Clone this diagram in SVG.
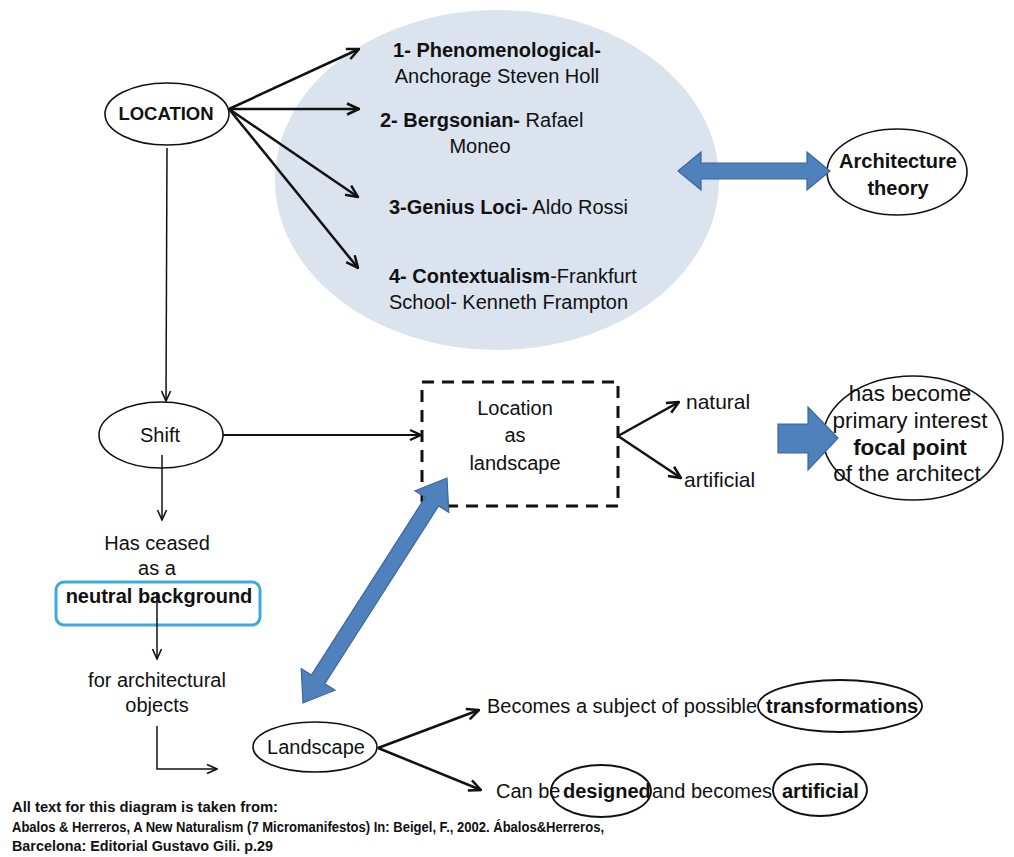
<svg xmlns="http://www.w3.org/2000/svg" width="1014" height="857" viewBox="0 0 1014 857">
  <style>
    text { font-family: "Liberation Sans", Arial, sans-serif; fill: #111; }
    .t { font-size: 20px; }
    .b { font-weight: bold; }
    .big { font-size: 22.5px; }
    .foot { font-size: 14.5px; font-weight: bold; }
    .node { fill: #fff; stroke: #111; stroke-width: 1.6; }
    .ring { fill: none; stroke: #111; stroke-width: 1.8; }
    .thick { fill: none; stroke: #111; stroke-width: 2.5; marker-end: url(#ah); }
    .thin { fill: none; stroke: #111; stroke-width: 1.5; marker-end: url(#ahs); }
    .mid { fill: none; stroke: #111; stroke-width: 2.2; marker-end: url(#ahm); }
    .blue { fill: #4f81bd; stroke: #3b679c; stroke-width: 1.2; }
  </style>
  <defs>
    <marker id="ah" viewBox="0 0 14 14" refX="13" refY="7" markerWidth="14" markerHeight="14" orient="auto" markerUnits="userSpaceOnUse">
      <path d="M1,1.5 L13,7 L1,12.5" fill="none" stroke="#111" stroke-width="2.5"/>
    </marker>
    <marker id="ahm" viewBox="0 0 13 13" refX="12" refY="6.5" markerWidth="13" markerHeight="13" orient="auto" markerUnits="userSpaceOnUse">
      <path d="M1,1.5 L12,6.5 L1,11.5" fill="none" stroke="#111" stroke-width="2.2"/>
    </marker>
    <marker id="ahs" viewBox="0 0 12 12" refX="11" refY="6" markerWidth="12" markerHeight="12" orient="auto" markerUnits="userSpaceOnUse">
      <path d="M1,1.5 L11,6 L1,10.5" fill="none" stroke="#111" stroke-width="1.6"/>
    </marker>
  </defs>

  <rect width="1014" height="857" fill="#fff"/>

  <!-- theories bubble -->
  <g id="theories">
    <ellipse cx="497" cy="180" rx="222" ry="170" fill="#dbe3ef"/>
    <text class="t b" x="497" y="57" text-anchor="middle">1- Phenomenological-</text>
    <text class="t" x="497" y="83" text-anchor="middle">Anchorage Steven Holl</text>
    <text class="t" x="380" y="127"><tspan class="b">2- Bergsonian-</tspan> Rafael</text>
    <text class="t" x="480" y="153" text-anchor="middle">Moneo</text>
    <text class="t" x="389" y="214"><tspan class="b">3-Genius Loci-</tspan> Aldo Rossi</text>
    <text class="t" x="389" y="283"><tspan class="b">4- Contextualism</tspan>-Frankfurt</text>
    <text class="t" x="389" y="309">School- Kenneth Frampton</text>
  </g>

  <g id="location">
    <ellipse class="node" cx="167" cy="114" rx="62" ry="31"/>
    <text class="b" x="166" y="120" text-anchor="middle" font-size="18.5">LOCATION</text>
  </g>

  <g id="architecture-theory">
    <ellipse class="node" cx="897" cy="172" rx="70" ry="43"/>
    <text class="t b" x="898" y="168" text-anchor="middle" font-size="19.5">Architecture</text>
    <text class="t b" x="898" y="195" text-anchor="middle" font-size="19.5">theory</text>
  </g>

  <g id="shift">
    <ellipse class="node" cx="161" cy="435" rx="62" ry="33"/>
    <text class="t" x="160" y="442" text-anchor="middle">Shift</text>
  </g>

  <g id="location-as-landscape">
    <rect x="422" y="382" width="196" height="124" fill="none" stroke="#111" stroke-width="3" stroke-dasharray="12 8"/>
    <text class="t" x="515" y="415" text-anchor="middle">Location</text>
    <text class="t" x="515" y="442" text-anchor="middle">as</text>
    <text class="t" x="515" y="470" text-anchor="middle">landscape</text>
  </g>

  <g id="natural"><text x="686" y="409" font-size="21">natural</text></g>
  <g id="artificial"><text x="684" y="487" font-size="21">artificial</text></g>

  <g id="focal-point">
    <ellipse class="node" cx="913" cy="438" rx="90" ry="62"/>
    <text class="big" x="910" y="401" text-anchor="middle">has become</text>
    <text class="big" x="910" y="428" text-anchor="middle">primary interest</text>
    <text class="big b" x="910" y="455" text-anchor="middle">focal point</text>
    <text class="big" x="907" y="481" text-anchor="middle">of the architect</text>
  </g>

  <g id="neutral-background">
    <text class="t" x="157" y="550" text-anchor="middle">Has ceased</text>
    <text class="t" x="157" y="575" text-anchor="middle">as a</text>
    <rect x="56" y="582" width="204" height="43" rx="8" fill="none" stroke="#3fa9dd" stroke-width="3"/>
    <text class="t b" x="159" y="603" text-anchor="middle" font-size="19.5">neutral background</text>
  </g>

  <g id="architectural-objects">
    <text class="t" x="157" y="687" text-anchor="middle">for architectural</text>
    <text class="t" x="157" y="712" text-anchor="middle">objects</text>
  </g>

  <g id="landscape">
    <ellipse class="node" cx="315" cy="747" rx="62" ry="25"/>
    <text class="t" x="316" y="754" text-anchor="middle">Landscape</text>
  </g>

  <g id="transformations">
    <text class="t" x="487" y="713">Becomes a subject of possible</text>
    <ellipse class="ring" cx="840" cy="706" rx="82" ry="26"/>
    <text class="t b" x="766" y="713" font-size="19.5">transformations</text>
  </g>

  <g id="designed-artificial">
    <text class="t" x="496" y="798">Can be</text>
    <ellipse class="ring" cx="601" cy="791" rx="50" ry="26"/>
    <text class="t b" x="563" y="798" font-size="19.5">designed</text>
    <text class="t" x="652" y="798">and becomes</text>
    <ellipse class="ring" cx="820" cy="790" rx="47" ry="26"/>
    <text class="t b" x="782" y="798" font-size="19.5">artificial</text>
  </g>

  <g id="source-note">
    <text class="foot" x="12" y="812" textLength="266" lengthAdjust="spacingAndGlyphs">All text for this diagram is taken from:</text>
    <text class="foot" x="12" y="832" textLength="592" lengthAdjust="spacingAndGlyphs">Abalos &amp; Herreros, A New Naturalism (7 Micromanifestos) In: Beigel, F., 2002. Ábalos&amp;Herreros,</text>
    <text class="foot" x="12" y="851" textLength="261" lengthAdjust="spacingAndGlyphs">Barcelona: Editorial Gustavo Gili. p.29</text>
  </g>

  <!-- connectors -->
  <g id="connectors">
    <line class="thick" x1="229" y1="109" x2="359" y2="49"/>
    <line class="thick" x1="229" y1="109" x2="359" y2="109"/>
    <line class="thick" x1="229" y1="109" x2="358" y2="197"/>
    <line class="thick" x1="229" y1="109" x2="358" y2="268"/>

    <line class="thin" x1="167" y1="148" x2="166" y2="401"/>
    <line class="mid" x1="223" y1="435" x2="421" y2="435"/>
    <line class="thin" x1="162" y1="455" x2="162" y2="520"/>
    <line class="thin" x1="157" y1="592" x2="157" y2="659"/>
    <polyline class="thin" points="157,726 157,769 217,769"/>

    <line class="thick" x1="618" y1="436" x2="679" y2="402"/>
    <line class="thick" x1="618" y1="436" x2="681" y2="478"/>

    <line class="thick" x1="378" y1="748" x2="479" y2="710"/>
    <line class="thick" x1="378" y1="748" x2="481" y2="790"/>

    <!-- block arrows -->
    <polygon class="blue" points="678,171 701,152 701,163 807,163 807,152 830,171 807,190 807,179 701,179 701,190"/>
    <polygon class="blue" points="778,424 808,424 808,407 838,438 808,470 808,453 778,453"/>
    <polygon class="blue" points="447,478 448.8,512.4 438.6,505.9 324.8,683.7 335,690.2 303,703 301.2,668.6 311.4,675.1 425.2,497.3 415,490.8"/>
  </g>
</svg>
